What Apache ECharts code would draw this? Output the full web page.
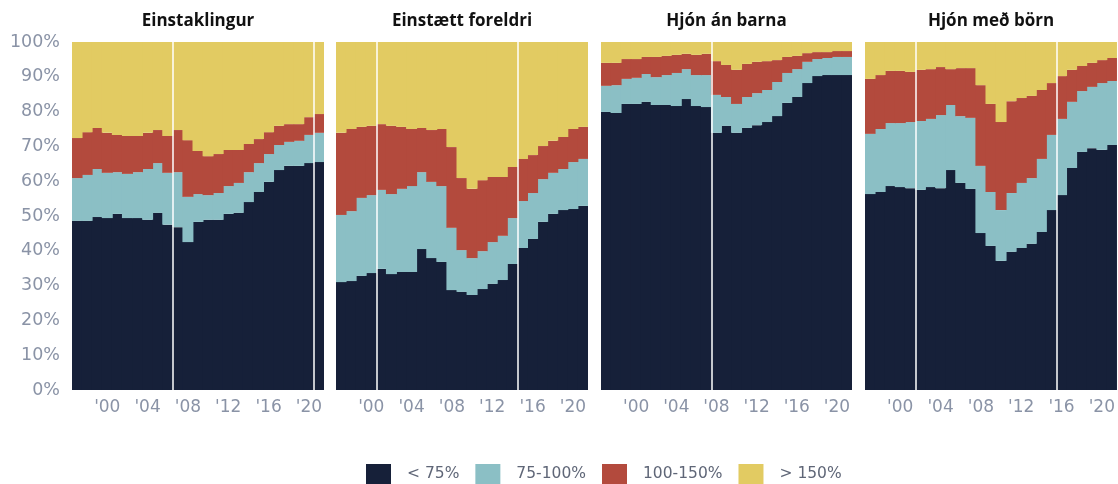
<!DOCTYPE html>
<html>
<head>
<meta charset="utf-8">
<title>Tekjuhópar eftir heimilisgerð</title>
<script src="https://cdn.jsdelivr.net/npm/echarts@6/dist/echarts.min.js"></script>
<style>
    html, body { margin: 0; padding: 0; background: #fff; }
    #main { width: 1118px; height: 484px; }
</style>
</head>
<body>
<div id="main"></div>
<script>
// ár 1997-2021
const years = ['1997', '1998', '1999', '2000', '2001', '2002', '2003', '2004', '2005', '2006', '2007',
    '2008', '2009', '2010', '2011', '2012', '2013', '2014', '2015', '2016', '2017', '2018', '2019',
    '2020', '2021'];
const tickYears = ['2000', '2004', '2008', '2012', '2016', '2020'];
const panelTitles = ['Einstaklingur', 'Einstætt foreldri', 'Hjón án barna', 'Hjón með börn'];
const bandNames = ['< 75%', '75-100%', '100-150%', '> 150%'];
const bandColors = ['#162039', '#8bbfc5', '#b34a3d', '#e2cb62'];
// rof í tímaröð (milli ára)
const breakYears = [[2006.5, 2020.5], [2000.5, 2014.5], [2007.5], [2001.5, 2015.5]];

// Einstaklingur
const single_lt75 = [48.6, 48.6, 49.7, 49.4, 50.6, 49.4, 49.4, 48.9, 50.9, 47.5, 46.8, 42.5, 48.3,
    48.9, 48.9, 50.6, 50.9, 54.0, 56.9, 59.8, 63.2, 64.4, 64.4, 65.2, 65.5];
const single_75_100 = [12.3, 13.2, 13.8, 13.0, 12.0, 12.7, 13.2, 14.6, 14.3, 14.9, 15.8, 13.0, 8.0,
    7.1, 7.7, 8.0, 8.6, 8.6, 8.3, 8.0, 7.2, 6.9, 7.2, 8.1, 8.4];
const single_100_150 = [11.5, 12.3, 11.8, 11.5, 10.7, 10.9, 10.4, 10.4, 9.5, 10.6, 12.1, 16.3, 12.4,
    11.2, 11.2, 10.4, 9.5, 8.1, 6.9, 6.3, 5.5, 5.1, 4.8, 5.1, 5.4];
const single_gt150 = [27.6, 25.9, 24.7, 26.1, 26.7, 27.0, 27.0, 26.1, 25.3, 27.0, 25.3, 28.2, 31.3,
    32.8, 32.2, 31.0, 31.0, 29.3, 27.9, 25.9, 24.1, 23.6, 23.6, 21.6, 20.7];

// Einstætt foreldri
const parent_lt75 = [31.0, 31.3, 32.8, 33.6, 34.8, 33.3, 33.9, 33.9, 40.5, 37.9, 36.8, 28.7, 28.2,
    27.3, 29.0, 30.5, 31.6, 36.2, 40.8, 43.4, 48.3, 50.6, 51.7, 52.0, 52.9];
const parent_75_100 = [19.3, 20.1, 22.4, 22.4, 22.7, 23.0, 23.9, 24.7, 22.1, 21.9, 21.8, 17.9, 12.0,
    10.6, 10.9, 12.0, 12.7, 13.2, 13.5, 13.2, 12.3, 11.8, 11.8, 13.5, 13.5];
const parent_100_150 = [23.6, 23.6, 20.4, 19.9, 18.9, 19.6, 17.8, 16.4, 12.7, 14.9, 16.4, 23.2, 20.7,
    19.9, 20.4, 18.7, 16.9, 14.7, 12.1, 10.9, 9.5, 9.2, 9.2, 9.5, 9.2];
const parent_gt150 = [26.1, 25.0, 24.4, 24.1, 23.6, 24.1, 24.4, 25.0, 24.7, 25.3, 25.0, 30.2, 39.1,
    42.2, 39.7, 38.8, 38.8, 35.9, 33.6, 32.5, 29.9, 28.4, 27.3, 25.0, 24.4];

// Hjón án barna
const couple_lt75 = [79.9, 79.6, 82.2, 82.2, 82.8, 81.9, 81.9, 81.6, 83.6, 81.6, 81.3, 73.9, 75.9,
    73.9, 75.3, 76.1, 77.0, 78.7, 82.5, 84.2, 88.2, 90.2, 90.5, 90.5, 90.5];
const couple_75_100 = [7.5, 8.0, 7.2, 7.5, 8.0, 8.0, 8.6, 9.5, 8.6, 8.9, 9.2, 10.9, 8.3,
    8.3, 8.9, 9.2, 9.2, 9.8, 8.6, 8.0, 6.1, 4.9, 4.9, 5.2, 5.2];
const couple_100_150 = [6.6, 6.4, 5.7, 5.4, 4.9, 5.8, 5.5, 5.2, 4.4, 5.8, 6.1, 9.7, 9.2,
    9.8, 9.5, 9.0, 8.3, 6.3, 4.6, 3.8, 2.5, 2.0, 1.7, 1.7, 1.7];
const couple_gt150 = [6.0, 6.0, 4.9, 4.9, 4.3, 4.3, 4.0, 3.7, 3.4, 3.7, 3.4, 5.5, 6.6,
    8.0, 6.3, 5.7, 5.5, 5.2, 4.3, 4.0, 3.2, 2.9, 2.9, 2.6, 2.6];

// Hjón með börn
const family_lt75 = [56.3, 56.9, 58.6, 58.3, 58.0, 57.5, 58.3, 58.0, 63.2, 59.5, 57.8, 45.1, 41.4,
    37.1, 39.7, 40.8, 42.0, 45.4, 51.7, 56.0, 63.8, 68.4, 69.5, 69.0, 70.4];
const family_75_100 = [17.3, 18.1, 18.1, 18.4, 19.0, 19.8, 19.6, 21.0, 18.7, 19.2, 20.4, 19.3, 15.5,
    14.6, 16.9, 18.7, 18.9, 21.0, 21.6, 21.9, 19.0, 17.5, 17.6, 19.2, 18.4];
const family_100_150 = [15.8, 15.5, 15.0, 15.0, 14.4, 14.7, 14.3, 13.8, 10.3, 13.8, 14.3, 23.2, 25.3,
    25.3, 26.4, 24.4, 23.6, 19.8, 14.9, 12.3, 9.2, 7.2, 6.9, 6.6, 6.6];
const family_gt150 = [10.6, 9.5, 8.3, 8.3, 8.6, 8.0, 7.8, 7.2, 7.8, 7.5, 7.5, 12.4, 17.8,
    23.0, 17.0, 16.1, 15.5, 13.8, 11.8, 9.8, 8.0, 6.9, 6.0, 5.2, 4.6];

const panelData = [
    [single_lt75, single_75_100, single_100_150, single_gt150],
    [parent_lt75, parent_75_100, parent_100_150, parent_gt150],
    [couple_lt75, couple_75_100, couple_100_150, couple_gt150],
    [family_lt75, family_75_100, family_100_150, family_gt150]
];

const gridLefts = [72, 336, 601, 865];
const gridWidths = [252, 252, 251, 252];
const labelColor = '#8a93a6';
const fontFamily = '"DejaVu Sans", sans-serif';

let grids = [], xAxes = [], yAxes = [], titles = [], series = [];

panelTitles.forEach(function (name, p) {
    grids.push({left: gridLefts[p], width: gridWidths[p], top: 42, height: 348});
    titles.push({
        text: name,
        left: gridLefts[p] + gridWidths[p] / 2,
        top: 13,
        padding: 0,
        textAlign: 'center',
        textStyle: {fontSize: 17, fontWeight: 'bold', color: '#111', fontFamily: '"Open Sans", sans-serif'}
    });
    // ásinn sem súlurnar standa á
    xAxes.push({
        type: 'category',
        gridIndex: p,
        data: years,
        boundaryGap: true,
        axisLine: {show: false},
        axisTick: {show: false},
        splitLine: {show: false},
        axisLabel: {
            interval: function (i, v) {
                return tickYears.indexOf(v) >= 0;
            },
            margin: 9,
            fontSize: 17,
            color: labelColor,
            fontFamily: fontFamily,
            formatter: function (v) {
                return "'" + v.slice(2);
            }
        }
    });
    // falinn tölulegur ás fyrir rof-línurnar
    xAxes.push({
        type: 'value',
        gridIndex: p,
        min: 1996.5,
        max: 2021.5,
        show: false
    });
    yAxes.push({
        type: 'value',
        gridIndex: p,
        min: 0,
        max: 100,
        interval: 10,
        axisLine: {show: false},
        axisTick: {show: false},
        splitLine: {show: false},
        axisLabel: {
            show: p === 0,
            margin: 12,
            fontSize: 17.5,
            color: labelColor,
            fontFamily: fontFamily,
            formatter: '{value}%'
        }
    });
    panelData[p].forEach(function (values, b) {
        series.push({
            name: bandNames[b],
            type: 'bar',
            xAxisIndex: 2 * p,
            yAxisIndex: p,
            stack: 'panel' + p,
            // örlítið breiðari en bilið svo engar rifur sjáist milli ára
            barWidth: 11,
            itemStyle: {color: bandColors[b]},
            data: values
        });
    });
    series.push({
        type: 'line',
        xAxisIndex: 2 * p + 1,
        yAxisIndex: p,
        data: [],
        z: 5,
        markLine: {
            silent: true,
            symbol: 'none',
            animation: false,
            label: {show: false},
            lineStyle: {color: '#fff', width: 1.5, type: 'solid'},
            data: breakYears[p].map(function (x) {
                return {xAxis: x};
            })
        }
    });
});

let option = {
    animation: false,
    backgroundColor: '#fff',
    title: titles,
    grid: grids,
    xAxis: xAxes,
    yAxis: yAxes,
    legend: {
        data: bandNames,
        left: 366,
        bottom: 0,
        padding: 0,
        icon: 'rect',
        itemWidth: 25,
        itemHeight: 20,
        itemGap: 16,
        textStyle: {fontSize: 15.5, color: '#5f6677', fontFamily: fontFamily, padding: [0, 0, 0, 11]}
    },
    series: series
};

let myChart = echarts.init(document.getElementById('main'));
myChart.setOption(option);
</script>
</body>
</html>
